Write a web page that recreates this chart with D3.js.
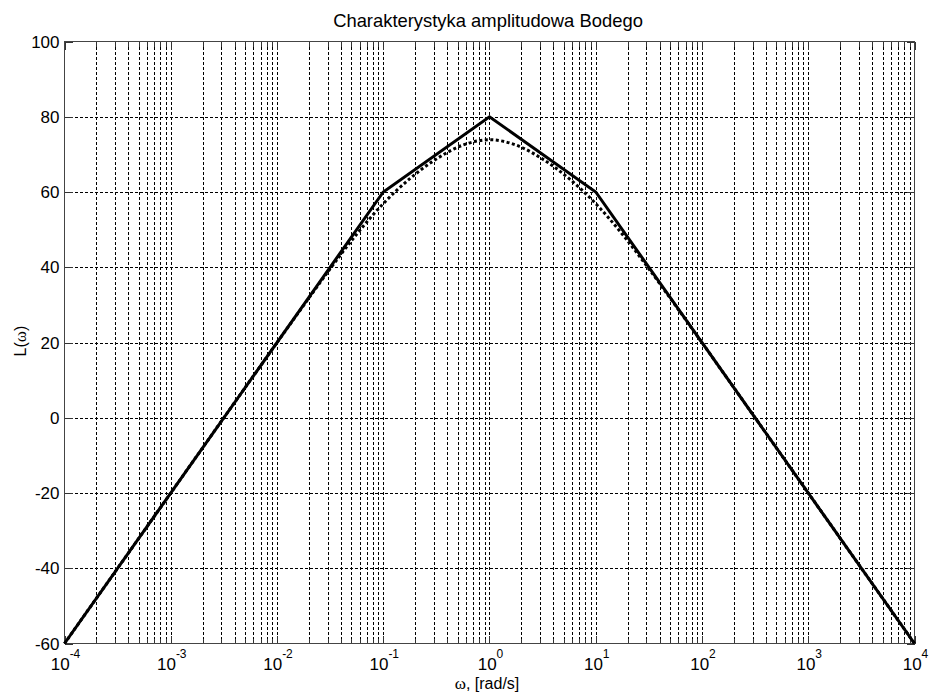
<!DOCTYPE html>
<html>
<head>
<meta charset="utf-8">
<script src="https://cdn.jsdelivr.net/npm/d3@7"></script>
<style>
  html, body { margin: 0; padding: 0; background: #fff; }
  svg { display: block; font-family: Arial, "Liberation Sans", sans-serif; }
</style>
</head>
<body>
<svg id="chart" width="929" height="697"></svg>
<script>
// Asymptotic Bode magnitude: break frequencies and levels (dB)
const asymOmega = [1e-4, 0.1, 1, 10, 1e4];
const asymL     = [-60, 60, 80, 60, -60];

// Exact magnitude curve (dotted), sampled on the log axis
const exactOmega = [1e-4, 1e-3, 0.00316, 0.01, 0.0178, 0.0316, 0.0562, 0.1, 0.178, 0.316, 0.562,
                    1, 1.78, 3.16, 5.62, 10, 17.8, 31.6, 56.2, 100, 316, 1000, 1e4];
const exactL     = [-60, -20, 0, 19.96, 29.86, 39.58, 48.78, 56.9, 63.54, 68.76, 72.47,
                    73.9, 72.47, 68.76, 63.54, 56.9, 48.78, 39.58, 29.86, 19.96, 0, -20, -60];

// Axis ticks
const xDecades = [-4, -3, -2, -1, 0, 1, 2, 3, 4];
const yTicks   = [-60, -40, -20, 0, 20, 40, 60, 80, 100];

const titleText = "Charakterystyka amplitudowa Bodego";
const omega = "\u03c9";

const svg = d3.select("#chart");
const pL = 64.5, pR = 914.5, pT = 41.5, pB = 643.5;

const x = d3.scaleLog().domain([1e-4, 1e4]).range([pL, pR]);
const y = d3.scaleLinear().domain([-60, 100]).range([pB, pT]);

// minor grid positions: 2..9 within each decade
const minorX = [];
for (let d = -4; d < 4; d++) for (let m = 2; m <= 9; m++) minorX.push(m * Math.pow(10, d));
const majorX = xDecades.map(d => Math.pow(10, d));

const grid = svg.append("g").attr("stroke", "#000").attr("stroke-width", 1)
  .attr("stroke-dasharray", "3,2").attr("shape-rendering", "crispEdges");

grid.selectAll("line.vx").data(majorX.concat(minorX).filter(v => v > 1e-4 && v < 1e4))
  .join("line").attr("class", "vx")
  .attr("x1", d => Math.round(x(d)) + 0.5).attr("x2", d => Math.round(x(d)) + 0.5)
  .attr("y1", pT).attr("y2", pB);

grid.selectAll("line.hy").data(yTicks.filter(v => v > -60 && v < 100))
  .join("line").attr("class", "hy")
  .attr("x1", pL).attr("x2", pR)
  .attr("y1", d => Math.round(y(d)) + 0.5).attr("y2", d => Math.round(y(d)) + 0.5);

// tick marks inside the box
const ticks = svg.append("g").attr("stroke", "#333").attr("stroke-width", 1)
  .attr("shape-rendering", "crispEdges");
const tickXs = majorX.map(v => ({v, len: 8})).concat(minorX.map(v => ({v, len: 5})));
tickXs.forEach(t => {
  const px = Math.round(x(t.v)) + 0.5;
  ticks.append("line").attr("x1", px).attr("x2", px).attr("y1", pB).attr("y2", pB - t.len);
  ticks.append("line").attr("x1", px).attr("x2", px).attr("y1", pT).attr("y2", pT + t.len);
});
yTicks.forEach(v => {
  const py = Math.round(y(v)) + 0.5;
  ticks.append("line").attr("x1", pL).attr("x2", pL + 8).attr("y1", py).attr("y2", py);
  ticks.append("line").attr("x1", pR).attr("x2", pR - 8).attr("y1", py).attr("y2", py);
});

// box
svg.append("rect").attr("x", pL).attr("y", pT)
  .attr("width", pR - pL).attr("height", pB - pT)
  .attr("fill", "none").attr("stroke", "#444").attr("stroke-width", 1)
  .attr("shape-rendering", "crispEdges");

// curves
const exactPts = exactOmega.map((w, i) => [w, exactL[i]]);
const asymPts  = asymOmega.map((w, i) => [w, asymL[i]]);

svg.append("path")
  .attr("d", d3.line().x(d => x(d[0])).y(d => y(d[1])).curve(d3.curveCatmullRom.alpha(0.5))(exactPts))
  .attr("fill", "none").attr("stroke", "#000").attr("stroke-width", 3)
  .attr("stroke-dasharray", "3,2.5");

svg.append("path")
  .attr("d", d3.line().x(d => x(d[0])).y(d => y(d[1]))(asymPts))
  .attr("fill", "none").attr("stroke", "#000").attr("stroke-width", 3)
  .attr("stroke-linejoin", "miter");

// y tick labels
svg.append("g").selectAll("text").data(yTicks).join("text")
  .attr("x", pL - 5).attr("y", d => y(d) + 6)
  .attr("text-anchor", "end").attr("font-size", 17).attr("fill", "#000")
  .text(d => d);

// x tick labels: 10^n
const xl = svg.append("g").selectAll("text").data(xDecades).join("text")
  .attr("x", d => x(Math.pow(10, d)) + 1).attr("y", 670)
  .attr("text-anchor", "middle").attr("font-size", 17).attr("fill", "#000");
xl.append("tspan").text("10");
xl.append("tspan").attr("font-size", 12).attr("dy", -12).text(d => d);

// title
svg.append("text").attr("x", 488).attr("y", 27).attr("text-anchor", "middle")
  .attr("font-size", 18.4).attr("fill", "#000").text(titleText);

// x axis label: ω, [rad/s]
const xLab = svg.append("text").attr("x", 487).attr("y", 689).attr("text-anchor", "middle")
  .attr("font-size", 16).attr("fill", "#000");
xLab.append("tspan").attr("font-family", "'Liberation Serif', 'Times New Roman', serif").attr("font-size", 17).text(omega);
xLab.append("tspan").text(", [rad/s]");

// y axis label: L(ω)
const yLab = svg.append("text").attr("transform", "translate(26,341) rotate(-90)")
  .attr("text-anchor", "middle").attr("font-size", 16).attr("fill", "#000");
yLab.append("tspan").text("L(");
yLab.append("tspan").attr("font-family", "'Liberation Serif', 'Times New Roman', serif").attr("font-size", 17).text(omega);
yLab.append("tspan").text(")");
</script>
</body>
</html>
